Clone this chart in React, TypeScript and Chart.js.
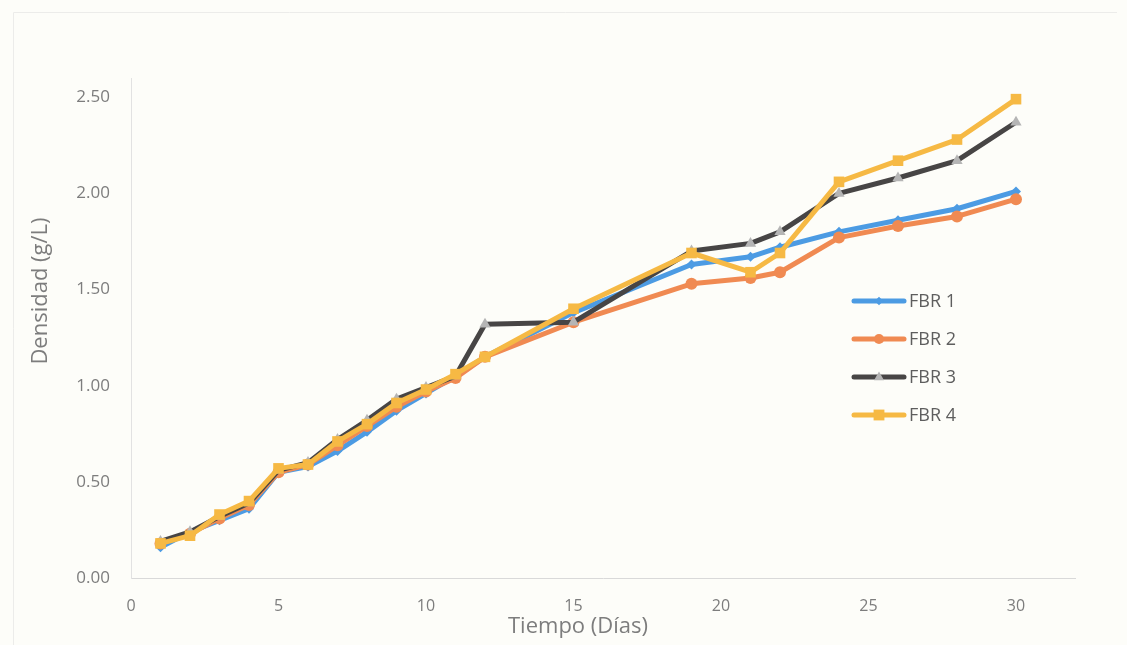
import React, { useEffect, useRef } from "react";
import { Chart, registerables } from "chart.js";

Chart.register(...registerables);

// Sampling days
const days = [1, 2, 3, 4, 5, 6, 7, 8, 9, 10, 11, 12, 15, 19, 21, 22, 24, 26, 28, 30];

// Biomass density (g/L) per photobioreactor
const fbr1 = [0.16, 0.24, 0.3, 0.36, 0.55, 0.58, 0.66, 0.76, 0.87, 0.96, 1.05, 1.15, 1.38, 1.63, 1.67, 1.72, 1.8, 1.86, 1.92, 2.01];
const fbr2 = [0.18, 0.23, 0.31, 0.38, 0.55, 0.59, 0.69, 0.79, 0.89, 0.97, 1.04, 1.15, 1.33, 1.53, 1.56, 1.59, 1.77, 1.83, 1.88, 1.97];
const fbr3 = [0.19, 0.24, 0.32, 0.39, 0.56, 0.6, 0.72, 0.82, 0.93, 0.99, 1.05, 1.32, 1.33, 1.7, 1.74, 1.8, 2.0, 2.08, 2.17, 2.37];
const fbr4 = [0.18, 0.22, 0.33, 0.4, 0.57, 0.59, 0.71, 0.8, 0.91, 0.98, 1.06, 1.15, 1.4, 1.69, 1.59, 1.69, 2.06, 2.17, 2.28, 2.49];

const seriesNames = ["FBR 1", "FBR 2", "FBR 3", "FBR 4"];
const xTicks = [0, 5, 10, 15, 20, 25, 30];
const yTicks = [0, 0.5, 1, 1.5, 2, 2.5];

const xTitle = "Tiempo (Días)";
const yTitle = "Densidad (g/L)";

const FONT = "'Open Sans', 'DejaVu Sans', sans-serif";
const TEXT = "#7d7d7d";

type SeriesStyle = {
  line: string;
  fill: string;
  point: "rectRot" | "circle" | "triangle" | "rect";
  radius: number;
};

const styles: SeriesStyle[] = [
  { line: "#4c9be3", fill: "#4c9be3", point: "rectRot", radius: 5 },
  { line: "#f08a52", fill: "#f08a52", point: "circle", radius: 6 },
  { line: "#474545", fill: "#b5b5b5", point: "triangle", radius: 6.5 },
  { line: "#f6b944", fill: "#f6b944", point: "rect", radius: 7.5 },
];

function drawMarker(ctx: CanvasRenderingContext2D, s: SeriesStyle, x: number, y: number, scale: number) {
  ctx.save();
  ctx.fillStyle = s.fill;
  ctx.beginPath();
  const r = s.radius * scale;
  if (s.point === "circle") {
    ctx.arc(x, y, r, 0, Math.PI * 2);
  } else if (s.point === "rectRot") {
    ctx.moveTo(x, y - r);
    ctx.lineTo(x + r, y);
    ctx.lineTo(x, y + r);
    ctx.lineTo(x - r, y);
    ctx.closePath();
  } else if (s.point === "triangle") {
    ctx.moveTo(x, y - r);
    ctx.lineTo(x + r * 0.9, y + r * 0.6);
    ctx.lineTo(x - r * 0.9, y + r * 0.6);
    ctx.closePath();
  } else {
    const h = r * 0.85;
    ctx.rect(x - h, y - h, 2 * h, 2 * h);
  }
  ctx.fill();
  ctx.restore();
}

const decorations = {
  id: "decorations",
  beforeDraw(chart: Chart) {
    const { ctx, width, height } = chart;
    ctx.save();
    ctx.fillStyle = "#fdfdf9";
    ctx.fillRect(0, 0, width, height);
    // faint outer frame
    ctx.strokeStyle = "#ececea";
    ctx.lineWidth = 1;
    ctx.beginPath();
    ctx.moveTo(13.5, height);
    ctx.lineTo(13.5, 12.5);
    ctx.lineTo(width - 10, 12.5);
    ctx.stroke();
    ctx.restore();
  },
  afterDraw(chart: Chart) {
    const { ctx, chartArea } = chart;
    ctx.save();
    // axis titles
    ctx.fillStyle = TEXT;
    ctx.font = `22px ${FONT}`;
    ctx.textAlign = "center";
    ctx.textBaseline = "middle";
    ctx.fillText(xTitle, 578, 627);
    ctx.translate(41, 291);
    ctx.rotate(-Math.PI / 2);
    ctx.fillText(yTitle, 0, 0);
    ctx.restore();

    // legend inside the plot
    ctx.save();
    const lx = chartArea.left + 723;
    const ly0 = 301;
    const gap = 38;
    seriesNames.forEach((name, i) => {
      const s = styles[i];
      const y = ly0 + i * gap;
      ctx.strokeStyle = s.line;
      ctx.lineWidth = 5;
      ctx.lineCap = "round";
      ctx.beginPath();
      ctx.moveTo(lx, y);
      ctx.lineTo(lx + 50, y);
      ctx.stroke();
      drawMarker(ctx, s, lx + 25, y, 0.85);
      ctx.fillStyle = "#5e5e5e";
      ctx.font = `18px ${FONT}`;
      ctx.textAlign = "left";
      ctx.textBaseline = "middle";
      ctx.fillText(name, lx + 55, y + 1);
    });
    ctx.restore();
  },
};

export default function App() {
  const canvasRef = useRef<HTMLCanvasElement | null>(null);

  useEffect(() => {
    if (!canvasRef.current) return;
    const all = [fbr1, fbr2, fbr3, fbr4];
    const chart = new Chart(canvasRef.current, {
      type: "line",
      data: {
        labels: days,
        datasets: all.map((vals, i) => ({
          label: seriesNames[i],
          data: vals.map((v, k) => ({ x: days[k], y: v })),
          borderColor: styles[i].line,
          backgroundColor: styles[i].fill,
          pointBackgroundColor: styles[i].fill,
          pointBorderWidth: 0,
          pointStyle: styles[i].point,
          pointRadius: styles[i].radius,
          borderWidth: 5,
          borderJoinStyle: "round" as const,
          tension: 0,
          fill: false,
          order: 4 - i,
        })),
      },
      options: {
        animation: false,
        responsive: false,
        maintainAspectRatio: false,
        layout: { padding: { top: 78, right: 52, bottom: 0, left: 0 } },
        plugins: {
          legend: { display: false },
          tooltip: { enabled: false },
        },
        scales: {
          x: {
            type: "linear",
            min: 0,
            max: 32,
            afterBuildTicks: (scale: any) => {
              scale.ticks = xTicks.map((v) => ({ value: v }));
            },
            afterFit: (scale: any) => {
              scale.height = 67;
            },
            grid: { display: false, drawTicks: false },
            border: { display: true, color: "#d9d9d9", width: 1 },
            ticks: {
              color: TEXT,
              font: { family: FONT, size: 16 },
              padding: 19,
              maxRotation: 0,
            },
          },
          y: {
            type: "linear",
            min: 0,
            max: 2.6,
            afterBuildTicks: (scale: any) => {
              scale.ticks = yTicks.map((v) => ({ value: v }));
            },
            afterFit: (scale: any) => {
              scale.width = 131;
            },
            grid: { display: false, drawTicks: false },
            border: { display: true, color: "#e2e2e2", width: 1 },
            ticks: {
              color: TEXT,
              font: { family: FONT, size: 17 },
              padding: 21,
              callback: (v: any) => Number(v).toFixed(2),
            },
          },
        },
      },
      plugins: [decorations],
    });
    return () => chart.destroy();
  }, []);

  return (
    <div style={{ position: "fixed", left: 0, top: 0, width: 1127, height: 645 }}>
      <canvas ref={canvasRef} width={1127} height={645} style={{ display: "block" }} />
    </div>
  );
}
